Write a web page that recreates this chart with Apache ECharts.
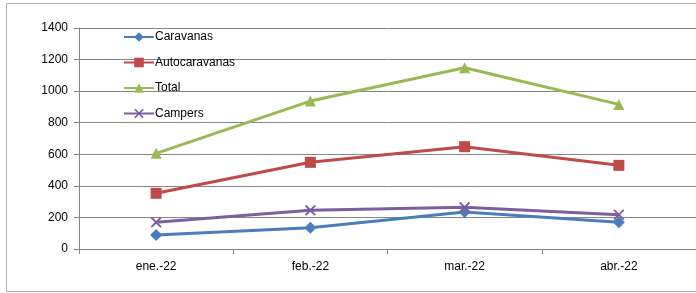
<!DOCTYPE html>
<html><head><meta charset="utf-8">
<script src="https://cdn.jsdelivr.net/npm/echarts@6/dist/echarts.min.js"></script>
<style>html,body{margin:0;padding:0;background:#fff}#c{width:696px;height:293px}</style>
</head><body><div id="c"></div>
<script>
const categories = ['ene.-22', 'feb.-22', 'mar.-22', 'abr.-22'];
const caravanas = [89, 135, 234, 169];
const autocaravanas = [353, 549, 648, 530];
const total = [606, 937, 1148, 916];
const campers = [169, 245, 264, 217];
const yTicks = [0, 200, 400, 600, 800, 1000, 1200, 1400];

const FONT = 'Liberation Sans';
const xPath = 'path://M0,1.2L1.2,0L5,3.8L8.8,0L10,1.2L6.2,5L10,8.8L8.8,10L5,6.2L1.2,10L0,8.8L3.8,5Z';
const chart = echarts.init(document.getElementById('c'));
function s(name, data, color, symbol, size) {
  return {name, type: 'line', data, symbol, symbolSize: size, showSymbol: true,
    lineStyle: {color, width: 3}, itemStyle: {color}, z: 3};
}
chart.setOption({
  animation: false,
  textStyle: {fontFamily: FONT},
  graphic: [{type: 'rect', shape: {x: 6.5, y: 3.5, width: 720, height: 288}, style: {fill: 'none', stroke: '#b3b3b3', lineWidth: 1}, silent: true, z: -1}],
  grid: {left: 79, top: 28, width: 626, bottom: 44},
  legend: {orient: 'vertical', left: 123, top: 31, padding: 0, itemWidth: 30, itemHeight: 12, itemGap: 13.5,
    textStyle: {fontFamily: FONT, fontSize: 12, color: '#000', padding: [0, 0, 0, -4]},
    data: ['Caravanas', 'Autocaravanas', 'Total', 'Campers']},
  xAxis: {type: 'category', data: categories, boundaryGap: true,
    axisLine: {lineStyle: {color: '#868686', width: 1}},
    axisTick: {show: true, length: 5, lineStyle: {color: '#868686'}},
    axisLabel: {color: '#000', fontSize: 12, fontFamily: FONT, margin: 12}},
  yAxis: {type: 'value', min: yTicks[0], max: yTicks[yTicks.length - 1], interval: 200,
    axisLine: {show: true, lineStyle: {color: '#868686', width: 1}},
    axisTick: {show: true, length: 5, lineStyle: {color: '#868686'}},
    splitLine: {lineStyle: {color: '#868686', width: 1}},
    axisLabel: {color: '#000', fontSize: 12, fontFamily: FONT, margin: 11, formatter: v => String(v)}},
  series: [
    s('Caravanas', caravanas, '#4a7ebb', 'diamond', 12),
    s('Autocaravanas', autocaravanas, '#be4b48', 'rect', 11),
    s('Total', total, '#98b954', 'triangle', 11),
    s('Campers', campers, '#7d5fa0', xPath, 11)
  ]
});
</script></body></html>
